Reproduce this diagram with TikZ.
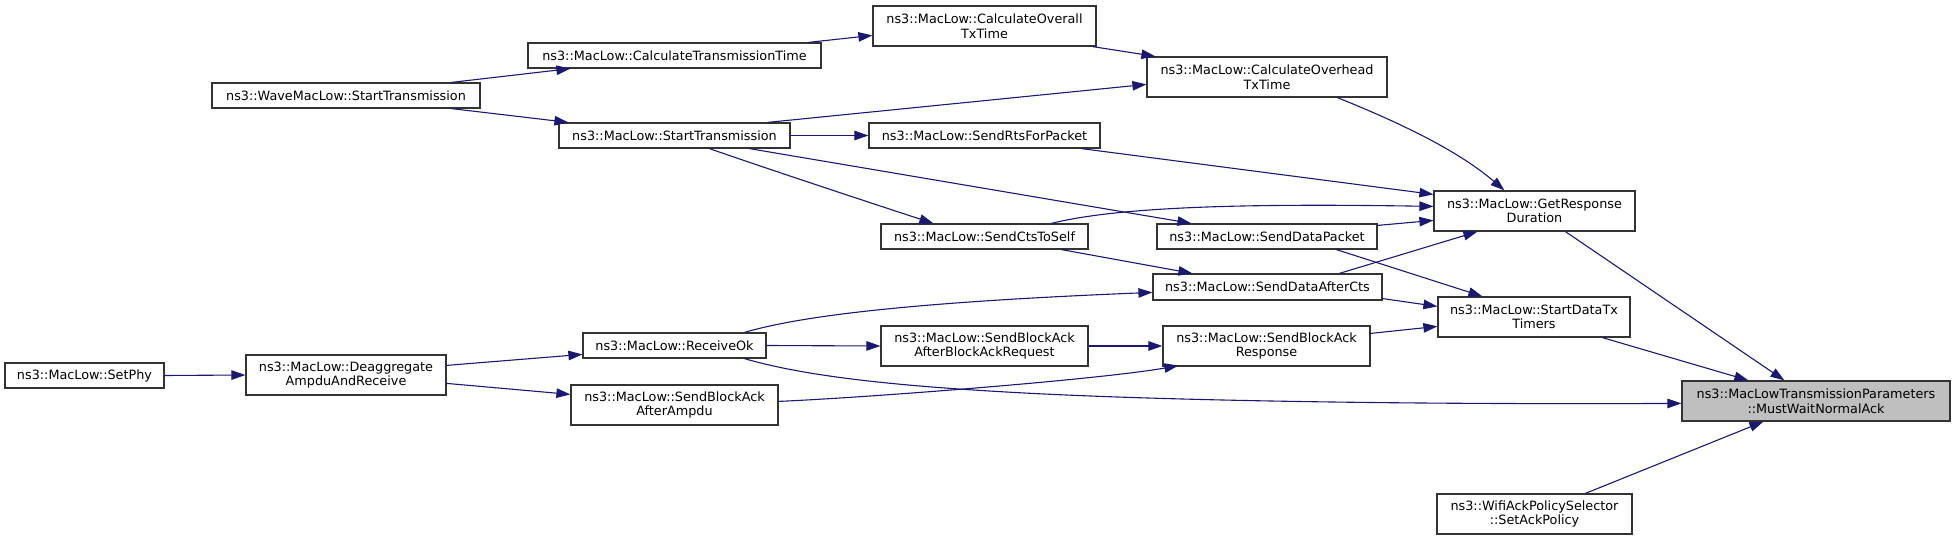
\documentclass[tikz,border=0pt]{standalone}
\usepackage{fontspec}
\setmainfont{DejaVu Sans}
\usetikzlibrary{arrows.meta,calc}
\definecolor{edgecol}{HTML}{191970}
\definecolor{boxline}{HTML}{333333}
\definecolor{hilite}{HTML}{BFBFBF}
\begin{document}
\begin{tikzpicture}[x=1pt,y=-1pt,
  fn/.style={draw=boxline,line width=1.2pt,rectangle,inner sep=0pt,align=center,
    font=\fontsize{12.8}{14.5}\selectfont},
  call/.style={draw=edgecol,line width=1.1pt,-{Triangle[length=14pt,width=9.5pt]},fill=none},
  ]
\useasboundingbox (0,0) rectangle (1955,540);
\newcommand{\bx}[6]{\node[fn,minimum width=#4-#2,minimum height=#5-#3] (#1) at ({(#2+#4)/2},{(#3+#5)/2}) {#6};}
\bx{setphy}{5}{363}{164}{388}{ns3::MacLow::SetPhy}
\bx{deagg}{246}{355}{446}{395}{ns3::MacLow::Deaggregate\\AmpduAndReceive}
\bx{recvok}{583}{333}{766}{358}{ns3::MacLow::ReceiveOk}
\bx{ampdu}{571}{385}{778}{425}{ns3::MacLow::SendBlockAck\\AfterAmpdu}
\bx{wave}{212}{83}{480}{108}{ns3::WaveMacLow::StartTransmission}
\bx{calctt}{528}{43}{821}{68}{ns3::MacLow::CalculateTransmissionTime}
\bx{starttx}{559}{123}{790}{148}{ns3::MacLow::StartTransmission}
\bx{overall}{873}{6}{1096}{46}{ns3::MacLow::CalculateOverall\\TxTime}
\bx{overhead}{1147}{57}{1387}{97}{ns3::MacLow::CalculateOverhead\\TxTime}
\bx{rts}{869}{123}{1100}{148}{ns3::MacLow::SendRtsForPacket}
\bx{cts}{881}{224}{1088}{249}{ns3::MacLow::SendCtsToSelf}
\bx{datapkt}{1157}{224}{1377}{249}{ns3::MacLow::SendDataPacket}
\bx{dac}{1153}{274}{1382}{300}{ns3::MacLow::SendDataAfterCts}
\bx{barreq}{881}{326}{1088}{366}{ns3::MacLow::SendBlockAck\\AfterBlockAckRequest}
\bx{baresp}{1163}{326}{1370}{366}{ns3::MacLow::SendBlockAck\\Response}
\bx{getresp}{1434}{191}{1635}{231}{ns3::MacLow::GetResponse\\Duration}
\bx{sdtt}{1438}{297}{1630}{337}{ns3::MacLow::StartDataTx\\Timers}
\node[fn,fill=hilite,minimum width=268,minimum height=40] (must) at (1816,401) {ns3::MacLowTransmissionParameters\\::MustWaitNormalAck};
\bx{wifi}{1437}{494}{1632}{534}{ns3::WifiAckPolicySelector\\::SetAckPolicy}

% edges
\draw[call] ($(wave.north west)+(240,0)$) -- ($(calctt.south west)+(43,0)$);
\draw[call] ($(wave.south west)+(240,0)$) -- ($(starttx.north west)+(10,0)$);
\draw[call] ($(calctt.north west)+(281,0)$) -- ($(overall.north west)+(0,30)$);
\draw[call] ($(overall.south east)+(-4,0)$) -- ($(overhead.north west)+(9,0)$);
\draw[call] ($(starttx.north west)+(209,0)$) -- ($(overhead.north west)+(0,28)$);
\draw[call] (starttx.east) -- (rts.west);
\draw[call] ($(starttx.south west)+(151,0)$) .. controls ($(starttx.south west)+(220,24)$) and ($(cts.north west)+(10,-14)$) .. ($(cts.north west)+(53,0)$);
\draw[call] ($(starttx.south west)+(191,0)$) -- ($(datapkt.north west)+(35,0)$);
\draw[call] ($(overhead.south west)+(191,0)$) .. controls ($(overhead.south west)+(243,21)$) and ($(getresp.north west)+(21,-43)$) .. ($(getresp.north west)+(71,0)$);
\draw[call] ($(rts.south west)+(213,0)$) -- ($(getresp.north west)+(0,4)$);
\draw[call] ($(cts.north west)+(171,0)$) .. controls ($(cts.north west)+(239,-17)$) and ($(cts.north west)+(369,-20)$) .. ($(getresp.north west)+(0,16)$);
\draw[call] ($(datapkt.north east)+(0,2)$) -- ($(getresp.north west)+(0,30)$);
\draw[call] ($(dac.north west)+(187,0)$) -- ($(getresp.south west)+(44,0)$);
\draw[call] ($(datapkt.south west)+(180,0)$) -- ($(sdtt.north west)+(45,0)$);
\draw[call] ($(cts.south west)+(181,0)$) -- ($(dac.north west)+(40,0)$);
\draw[call] ($(recvok.north west)+(162,0)$) .. controls ($(recvok.north west)+(207,-13)$) and ($(recvok.north west)+(297,-29)$) .. ($(dac.north west)+(0,19)$);
\draw[call] ($(dac.south east)+(0,-2)$) -- ($(sdtt.north west)+(0,10)$);
\draw[call] ($(baresp.north east)+(0,8)$) -- ($(sdtt.north west)+(0,30)$);
\draw[call] ($(getresp.south west)+(132,0)$) -- ($(must.north west)+(103,0)$);
\draw[call] ($(sdtt.south west)+(165,0)$) -- ($(must.north west)+(67,0)$);
\draw[call] ($(recvok.south west)+(162,0)$) .. controls ($(recvok.south west)+(217,16)$) and ($(recvok.south west)+(297,26)$) .. ($(recvok.south west)+(417,33)$) .. controls ($(recvok.south west)+(567,42)$) and ($(recvok.south west)+(817,46)$) .. ($(must.north west)+(0,23)$);
\draw[call] ($(wifi.north west)+(149,0)$) -- ($(must.south west)+(82,0)$);
\draw[call] (recvok.east) -- (barreq.west);
\draw[call] (barreq.east) -- (baresp.west);
\draw[call] ($(ampdu.north east)+(0,17)$) .. controls ($(ampdu.north east)+(92,13)$) and ($(ampdu.north east)+(322,-5)$) .. ($(baresp.south west)+(16,-1)$);
\draw[call] (setphy.east) -- (deagg.west);
\draw[call] ($(deagg.north east)+(0,11)$) -- ($(recvok.north west)+(0,22)$);
\draw[call] ($(deagg.north east)+(0,29)$) -- ($(ampdu.north west)+(0,10)$);
\end{tikzpicture}
\end{document}
